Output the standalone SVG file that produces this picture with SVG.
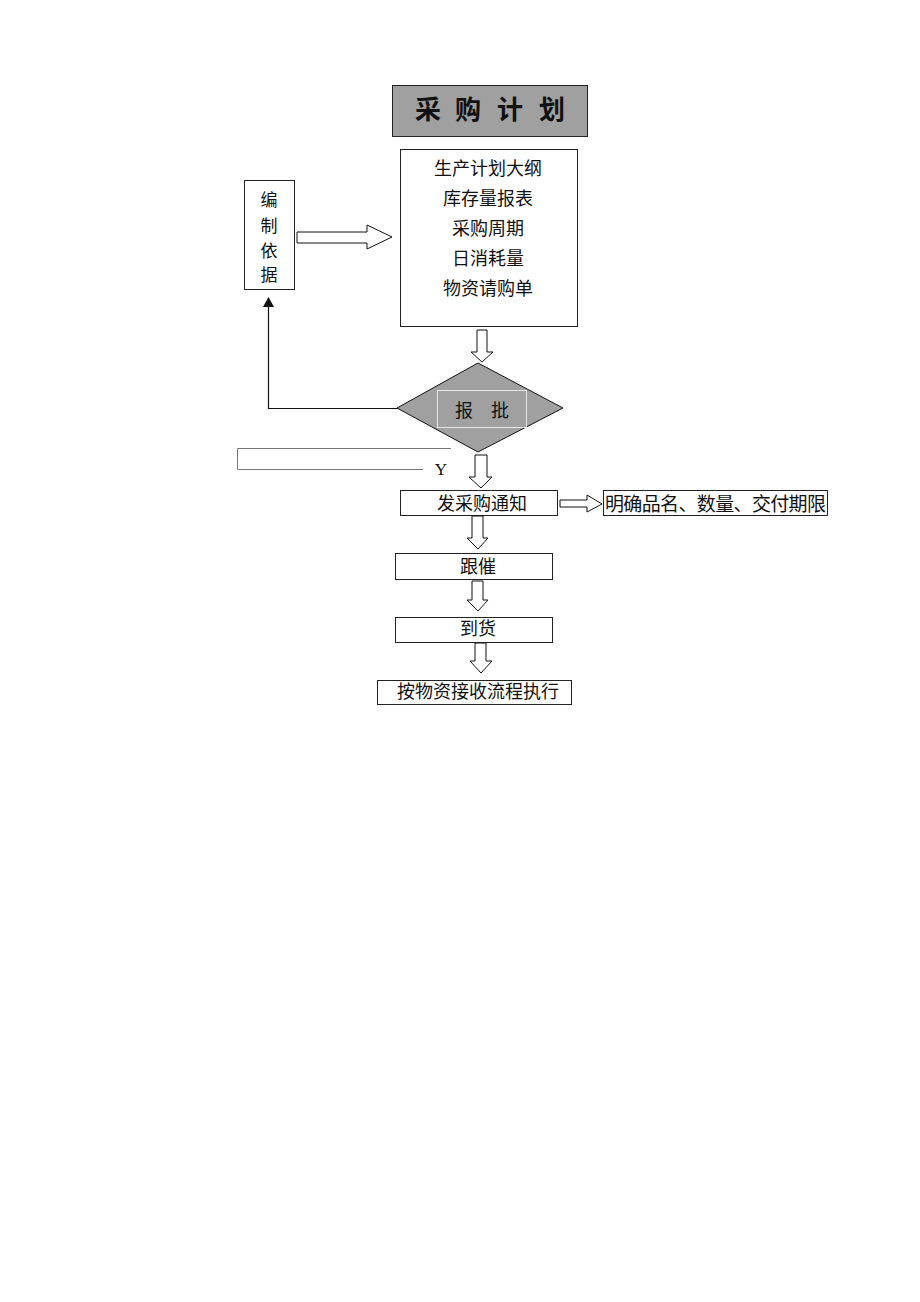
<svg xmlns="http://www.w3.org/2000/svg" width="920" height="1302" viewBox="0 0 920 1302">
<style>
.t{font-family:"Liberation Serif","Noto Sans CJK SC",serif;fill:#111;dominant-baseline:central;text-anchor:middle}
.f18{font-size:18px}
.box{fill:#fff;stroke:#222;stroke-width:1}
.hollow{fill:#fff;stroke:#111;stroke-width:1}
.gray{fill:#a0a0a0;stroke:#222;stroke-width:1}
</style>
<rect width="920" height="1302" fill="#fff"/>
<g id="title">
<rect class="gray" x="392.5" y="85.5" width="195" height="51"/>
<text font-family="'Noto Sans CJK SC',sans-serif" font-size="26" font-weight="bold" fill="#111" x="428 468 510 552" y="107" text-anchor="middle" dominant-baseline="central">采购计划</text>
</g>
<g id="basis">
<rect class="box" x="244.5" y="180.5" width="50" height="109"/>
<text class="t" font-size="17" x="269" y="200">编</text>
<text class="t" font-size="17" x="269" y="226">制</text>
<text class="t" font-size="17" x="269" y="251">依</text>
<text class="t" font-size="17" x="269" y="275">据</text>
</g>
<g id="inputs">
<rect class="box" x="400.5" y="149.5" width="177" height="177"/>
<text class="t f18" x="488" y="169">生产计划大纲</text>
<text class="t f18" x="488" y="199">库存量报表</text>
<text class="t f18" x="488" y="229">采购周期</text>
<text class="t f18" x="488" y="259">日消耗量</text>
<text class="t f18" x="488" y="289">物资请购单</text>
</g>
<g id="approve">
<polygon points="397,408 478,363 563,408 478,452" fill="#a0a0a0" stroke="#111" stroke-width="1"/>
<rect x="437.5" y="390.5" width="89" height="37" fill="none" stroke="#e8e8e8" stroke-width="1"/>
<text class="t f18" x="464" y="411">报</text>
<text class="t f18" x="500" y="411">批</text>
</g>
<g id="notice">
<rect class="box" x="400.5" y="490.5" width="157" height="25"/>
<text class="t f18" x="482" y="504">发采购通知</text>
</g>
<g id="detail">
<rect class="box" x="603.5" y="490.5" width="224" height="25"/>
<text class="t" font-size="19" x="605" y="504" style="text-anchor:start" textLength="221" lengthAdjust="spacing">明确品名、数量、交付期限</text>
</g>
<g id="follow">
<rect class="box" x="395.5" y="553.5" width="157" height="26"/>
<text class="t f18" x="478" y="567">跟催</text>
</g>
<g id="arrival">
<rect class="box" x="395.5" y="617.5" width="157" height="25"/>
<text class="t f18" x="478" y="629">到货</text>
</g>
<g id="receive">
<rect class="box" x="377.5" y="680.5" width="194" height="24"/>
<text class="t f18" x="478" y="692">按物资接收流程执行</text>
</g>
<g id="connectors">
<polygon class="hollow" points="297,232 367,232 367,225 392,237 367,249 367,243 297,243"/>
<polygon class="hollow" points="477,330 487,330 487,352 493,352 482,362 471,352 477,352"/>
<polygon class="hollow" points="475,455 487,455 487,477 492,477 481,488 469,477 475,477"/>
<polygon class="hollow" points="560,500 587,500 587,495 602,504 587,512 587,507 560,507"/>
<polygon class="hollow" points="472,516 483,516 483,538 488,538 478,549 467,538 472,538"/>
<polygon class="hollow" points="472,581 483,581 483,600 488,600 478,611 467,600 472,600"/>
<polygon class="hollow" points="475,643 486,643 486,661 492,661 481,673 470,661 475,661"/>
<polyline points="397,408.5 268.5,408.5 268.5,306" fill="none" stroke="#111" stroke-width="1.2"/>
<polygon points="263,307 274,307 268.5,297" fill="#111"/>
<polyline points="451,448.5 237.5,448.5 237.5,469.5 423,469.5" fill="none" stroke="#777" stroke-width="1"/>
<text class="t" font-size="17" x="441" y="469">Y</text>
</g>
</svg>
